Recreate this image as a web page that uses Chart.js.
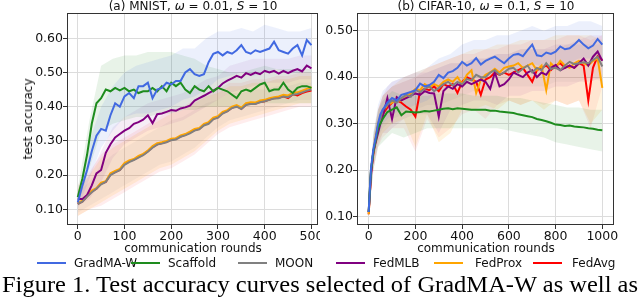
<!DOCTYPE html>
<html lang="en">
<head>
<meta charset="UTF-8">
<title>Test accuracy curves</title>
<script src="https://cdn.jsdelivr.net/npm/chart.js"></script>
<style>
  body { margin: 0; width: 640px; height: 304px; position: relative; overflow: hidden; background: #fff;
         font-family: "DejaVu Sans", sans-serif; color: #111; }
  canvas { position: absolute; top: 0; }
  .t { position: absolute; white-space: nowrap; font-size: 12px; line-height: 12px; transform: translate(-50%, -50%); }
  .ylab { transform: translate(-50%, -50%) rotate(-90deg); }
  .leg-line { position: absolute; height: 2px; top: 262px; }
  .leg-text { position: absolute; top: 257px; font-size: 12px; line-height: 12px; white-space: nowrap; }
  #caption { position: absolute; left: 2px; top: 273px; font-family: "Liberation Serif", "Times New Roman", serif;
             font-size: 23px; line-height: 23px; white-space: nowrap; transform-origin: 0 0; color: #000; }
</style>
</head>
<body>
<canvas id="mnist" width="320" height="260" style="left:0"></canvas>
<canvas id="cifar" width="320" height="260" style="left:320px"></canvas>

<div class="t" style="left:193px; top:5.5px">(a) MNIST, <i>ω</i> = 0.01, <i>S</i> = 10</div>
<div class="t" style="left:486px; top:5.5px">(b) CIFAR-10, <i>ω</i> = 0.1, <i>S</i> = 10</div>
<div class="t ylab" style="left:28px; top:119px">test accuracy</div>
<div class="t" style="left:193px; top:247.5px">communication rounds</div>
<div class="t" style="left:486px; top:247.5px">communication rounds</div>
<div id="legend"></div>
<div id="caption">Figure 1. Test accuracy curves selected of GradMA-W as well as</div>

<script>
  // ---------- (a) MNIST ----------
  const MNIST_ROUNDS = [0,10,20,30,40,50,60,70,80,90,100,110,120,130,140,150,160,170,180,190,200,
    210,220,230,240,250,260,270,280,290,300,310,320,330,340,350,360,370,380,390,400,
    410,420,430,440,450,460,470,480,490,500];
  const mnistGradma = [0.120,0.170,0.215,0.270,0.315,0.335,0.330,0.375,0.410,0.400,
    0.430,0.440,0.425,0.460,0.460,0.470,0.425,0.450,0.455,0.470,
    0.465,0.475,0.475,0.500,0.510,0.495,0.490,0.495,0.530,0.555,
    0.560,0.550,0.560,0.555,0.565,0.580,0.560,0.555,0.565,0.560,
    0.565,0.570,0.590,0.565,0.560,0.555,0.570,0.580,0.550,0.595,0.580];
  const mnistScaffold = [0.135,0.190,0.260,0.350,0.410,0.425,0.450,0.445,0.455,0.448,
    0.455,0.445,0.450,0.440,0.445,0.445,0.455,0.445,0.460,0.445,
    0.470,0.460,0.470,0.450,0.440,0.460,0.450,0.445,0.460,0.445,
    0.455,0.450,0.445,0.435,0.425,0.445,0.450,0.445,0.455,0.465,
    0.470,0.445,0.450,0.450,0.470,0.450,0.440,0.455,0.460,0.460,0.455];
  const mnistMoon = [0.115,0.122,0.137,0.150,0.160,0.173,0.180,0.200,0.208,0.214,
    0.230,0.238,0.244,0.251,0.258,0.268,0.280,0.289,0.292,0.296,
    0.302,0.304,0.312,0.316,0.322,0.330,0.334,0.345,0.350,0.363,
    0.368,0.380,0.386,0.396,0.400,0.393,0.405,0.408,0.408,0.413,
    0.416,0.420,0.424,0.425,0.430,0.428,0.435,0.437,0.442,0.447,0.450];
  const mnistFedmlb = [0.130,0.130,0.142,0.170,0.205,0.215,0.265,0.290,0.310,0.320,
    0.330,0.337,0.350,0.355,0.362,0.375,0.352,0.378,0.380,0.385,
    0.390,0.388,0.395,0.398,0.403,0.418,0.425,0.432,0.440,0.447,
    0.455,0.468,0.476,0.483,0.490,0.485,0.498,0.493,0.500,0.495,
    0.505,0.500,0.505,0.497,0.505,0.498,0.505,0.510,0.503,0.520,0.512];
  const mnistFedprox = [0.118,0.125,0.140,0.155,0.162,0.178,0.182,0.205,0.212,0.218,
    0.235,0.243,0.247,0.256,0.262,0.272,0.285,0.293,0.296,0.300,
    0.306,0.308,0.316,0.320,0.327,0.335,0.338,0.350,0.355,0.368,
    0.372,0.385,0.390,0.400,0.405,0.397,0.410,0.413,0.412,0.418,
    0.420,0.425,0.428,0.430,0.435,0.433,0.440,0.442,0.447,0.452,0.457];
  const mnistFedavg = [0.116,0.123,0.138,0.152,0.160,0.175,0.180,0.202,0.209,0.215,
    0.232,0.240,0.245,0.253,0.260,0.270,0.282,0.290,0.294,0.297,
    0.303,0.306,0.313,0.318,0.324,0.332,0.335,0.347,0.352,0.365,
    0.369,0.382,0.387,0.397,0.402,0.394,0.406,0.410,0.409,0.414,
    0.416,0.421,0.425,0.426,0.430,0.425,0.436,0.433,0.440,0.444,0.447];

  // shaded spread (min / max over runs)
  const MNIST_BAND_ROUNDS = [0,25,50,75,100,125,150,175,200,225,250,275,300,325,350,375,400,425,450,475,500];
  const mnistGradmaLo   = [0.10,0.19,0.28,0.33,0.37,0.38,0.38,0.39,0.40,0.42,0.43,0.45,0.48,0.49,0.50,0.49,0.50,0.51,0.50,0.50,0.52];
  const mnistGradmaHi   = [0.14,0.30,0.40,0.46,0.50,0.52,0.53,0.54,0.55,0.57,0.57,0.60,0.62,0.62,0.63,0.62,0.64,0.63,0.62,0.62,0.63];
  const mnistScaffoldLo = [0.11,0.22,0.33,0.35,0.36,0.37,0.37,0.38,0.38,0.39,0.39,0.40,0.40,0.40,0.40,0.41,0.41,0.41,0.41,0.41,0.41];
  const mnistScaffoldHi = [0.16,0.36,0.52,0.54,0.55,0.55,0.56,0.56,0.56,0.55,0.54,0.52,0.51,0.50,0.50,0.51,0.52,0.51,0.51,0.51,0.51];
  const mnistMoonLo     = [0.09,0.11,0.13,0.15,0.17,0.19,0.21,0.23,0.24,0.26,0.28,0.31,0.34,0.36,0.37,0.38,0.39,0.40,0.41,0.42,0.42];
  const mnistMoonHi     = [0.15,0.18,0.23,0.26,0.28,0.30,0.32,0.34,0.36,0.37,0.39,0.41,0.42,0.44,0.44,0.45,0.45,0.46,0.46,0.47,0.47];
  const mnistFedmlbLo   = [0.11,0.13,0.18,0.25,0.29,0.31,0.33,0.34,0.35,0.36,0.38,0.40,0.42,0.44,0.45,0.46,0.47,0.47,0.47,0.48,0.48];
  const mnistFedmlbHi   = [0.15,0.20,0.27,0.34,0.37,0.39,0.41,0.42,0.43,0.44,0.46,0.48,0.49,0.52,0.53,0.54,0.54,0.54,0.54,0.55,0.55];
  const mnistFedproxLo  = [0.08,0.10,0.12,0.14,0.16,0.18,0.20,0.22,0.23,0.25,0.27,0.30,0.33,0.35,0.36,0.37,0.38,0.39,0.40,0.41,0.41];
  const mnistFedproxHi  = [0.16,0.20,0.25,0.28,0.30,0.32,0.34,0.36,0.38,0.39,0.41,0.43,0.44,0.46,0.46,0.47,0.47,0.48,0.48,0.49,0.49];
  const mnistFedavgLo   = [0.08,0.10,0.11,0.13,0.15,0.17,0.19,0.21,0.22,0.24,0.26,0.29,0.32,0.34,0.35,0.36,0.37,0.38,0.39,0.40,0.40];
  const mnistFedavgHi   = [0.17,0.21,0.26,0.29,0.31,0.33,0.35,0.37,0.39,0.40,0.42,0.44,0.45,0.47,0.47,0.48,0.48,0.49,0.49,0.50,0.50];

  const MNIST_X_TICKS = [0,100,200,300,400,500];
  const MNIST_Y_TICKS = [0.1,0.2,0.3,0.4,0.5,0.6];

  // ---------- (b) CIFAR-10 ----------
  const CIFAR_ROUNDS = [0,5,10,20,30,40,50,60,80,100,120,140,160,180,200,220,240,260,280,300,
    320,340,360,380,400,420,440,460,480,500,520,540,560,580,600,620,640,660,680,700,
    720,740,760,780,800,820,840,860,880,900,920,940,960,980,1000];
  const cifarGradma = [0.110,0.160,0.205,0.245,0.270,0.300,0.320,0.330,0.345,0.355,
    0.350,0.362,0.365,0.368,0.372,0.386,0.380,0.383,0.390,0.405,
    0.398,0.410,0.413,0.420,0.433,0.425,0.430,0.441,0.427,0.435,
    0.440,0.444,0.437,0.430,0.440,0.448,0.450,0.445,0.458,0.470,
    0.447,0.445,0.453,0.450,0.455,0.466,0.460,0.462,0.470,0.480,
    0.470,0.462,0.468,0.482,0.470];
  const cifarScaffold = [0.110,0.160,0.200,0.240,0.265,0.290,0.300,0.310,0.325,0.330,
    0.335,0.318,0.326,0.325,0.324,0.325,0.327,0.326,0.328,0.330,
    0.332,0.333,0.331,0.333,0.332,0.331,0.330,0.330,0.330,0.330,
    0.328,0.328,0.326,0.325,0.324,0.323,0.320,0.318,0.316,0.314,
    0.310,0.308,0.305,0.302,0.298,0.297,0.295,0.296,0.294,0.293,
    0.292,0.290,0.289,0.287,0.286];
  const cifarMoon = [0.110,0.155,0.200,0.240,0.265,0.295,0.310,0.330,0.340,0.350,
    0.345,0.355,0.362,0.358,0.372,0.368,0.375,0.380,0.370,0.377,
    0.385,0.390,0.382,0.390,0.385,0.396,0.393,0.405,0.400,0.400,
    0.410,0.415,0.405,0.410,0.418,0.420,0.410,0.418,0.425,0.410,
    0.420,0.415,0.430,0.418,0.420,0.415,0.425,0.433,0.428,0.430,
    0.432,0.430,0.437,0.444,0.423];
  const cifarFedmlb = [0.110,0.150,0.190,0.240,0.260,0.280,0.300,0.315,0.355,0.310,
    0.357,0.350,0.355,0.360,0.365,0.362,0.370,0.366,0.365,0.315,
    0.370,0.380,0.375,0.385,0.380,0.390,0.385,0.390,0.395,0.390,
    0.375,0.410,0.380,0.385,0.395,0.410,0.405,0.400,0.410,0.415,
    0.400,0.410,0.405,0.420,0.426,0.415,0.420,0.425,0.420,0.430,
    0.440,0.425,0.444,0.455,0.435];
  const cifarFedprox = [0.105,0.150,0.200,0.240,0.270,0.300,0.315,0.325,0.340,0.345,
    0.350,0.350,0.360,0.365,0.375,0.372,0.385,0.378,0.385,0.380,
    0.390,0.395,0.390,0.400,0.385,0.405,0.415,0.366,0.394,0.405,
    0.410,0.418,0.410,0.420,0.423,0.425,0.430,0.420,0.425,0.430,
    0.415,0.425,0.372,0.430,0.420,0.435,0.425,0.420,0.430,0.435,
    0.430,0.425,0.435,0.440,0.377];
  const cifarFedavg = [0.105,0.150,0.195,0.235,0.265,0.295,0.310,0.320,0.335,0.345,
    0.350,0.345,0.337,0.330,0.315,0.370,0.375,0.372,0.380,0.370,
    0.385,0.380,0.385,0.366,0.390,0.400,0.395,0.390,0.362,0.395,
    0.400,0.410,0.405,0.410,0.405,0.410,0.415,0.420,0.405,0.390,
    0.415,0.420,0.425,0.415,0.425,0.430,0.420,0.425,0.420,0.430,
    0.425,0.350,0.420,0.445,0.437];

  const CIFAR_BAND_ROUNDS = [0,20,40,60,80,100,150,200,250,300,350,400,450,500,550,600,650,700,750,800,850,900,950,1000];
  const cifarGradmaLo   = [0.10,0.22,0.27,0.30,0.31,0.32,0.33,0.34,0.35,0.37,0.38,0.39,0.40,0.40,0.41,0.41,0.42,0.43,0.42,0.43,0.43,0.44,0.44,0.44];
  const cifarGradmaHi   = [0.13,0.28,0.34,0.37,0.38,0.39,0.40,0.41,0.42,0.44,0.45,0.47,0.48,0.48,0.49,0.49,0.50,0.51,0.50,0.51,0.51,0.52,0.52,0.51];
  const cifarScaffoldLo = [0.10,0.20,0.25,0.26,0.27,0.28,0.27,0.28,0.29,0.29,0.29,0.29,0.29,0.29,0.29,0.285,0.28,0.275,0.27,0.26,0.255,0.25,0.245,0.24];
  const cifarScaffoldHi = [0.12,0.28,0.33,0.35,0.36,0.37,0.36,0.36,0.36,0.365,0.365,0.365,0.36,0.36,0.36,0.355,0.355,0.35,0.345,0.34,0.335,0.335,0.33,0.33];
  const cifarMoonLo     = [0.10,0.21,0.27,0.29,0.30,0.31,0.32,0.33,0.34,0.34,0.35,0.36,0.37,0.37,0.38,0.38,0.38,0.38,0.38,0.39,0.39,0.39,0.40,0.39];
  const cifarMoonHi     = [0.12,0.26,0.32,0.36,0.37,0.38,0.39,0.40,0.41,0.42,0.43,0.43,0.44,0.44,0.45,0.45,0.46,0.46,0.46,0.46,0.47,0.47,0.47,0.47];
  const cifarFedmlbLo   = [0.10,0.20,0.25,0.28,0.28,0.29,0.31,0.32,0.32,0.28,0.33,0.34,0.35,0.35,0.34,0.36,0.36,0.37,0.37,0.38,0.38,0.39,0.39,0.40];
  const cifarFedmlbHi   = [0.12,0.27,0.33,0.36,0.38,0.39,0.40,0.41,0.41,0.42,0.43,0.43,0.44,0.44,0.45,0.45,0.46,0.46,0.46,0.47,0.47,0.48,0.49,0.49];
  const cifarFedproxLo  = [0.10,0.21,0.26,0.28,0.29,0.30,0.31,0.25,0.32,0.26,0.28,0.33,0.33,0.34,0.33,0.35,0.34,0.35,0.33,0.35,0.34,0.35,0.30,0.33];
  const cifarFedproxHi  = [0.12,0.27,0.33,0.36,0.37,0.38,0.40,0.41,0.42,0.43,0.44,0.45,0.46,0.46,0.47,0.47,0.48,0.48,0.48,0.49,0.49,0.49,0.49,0.48];
  const cifarFedavgLo   = [0.10,0.20,0.25,0.27,0.28,0.29,0.29,0.24,0.31,0.27,0.29,0.32,0.33,0.31,0.34,0.35,0.34,0.35,0.34,0.35,0.34,0.35,0.29,0.38];
  const cifarFedavgHi   = [0.12,0.27,0.33,0.36,0.37,0.38,0.39,0.40,0.42,0.43,0.44,0.45,0.45,0.46,0.46,0.47,0.47,0.48,0.48,0.48,0.49,0.49,0.48,0.49];

  const CIFAR_X_TICKS = [0,200,400,600,800,1000];
  const CIFAR_Y_TICKS = [0.1,0.2,0.3,0.4,0.5];

  const METHODS = ['GradMA-W', 'Scaffold', 'MOON', 'FedMLB', 'FedProx', 'FedAvg'];
  const COLORS  = ['#4169e1', '#1e8c1e', '#808080', '#800080', '#ffa500', '#ff0000'];
  const BANDS   = ['rgba(65,105,225,0.10)', 'rgba(30,140,30,0.10)', 'rgba(128,128,128,0.08)',
                   'rgba(128,0,128,0.07)', 'rgba(255,165,0,0.12)', 'rgba(255,0,0,0.07)'];

  Chart.defaults.font.family = '"DejaVu Sans", sans-serif';

  function pts(xs, ys) {
    return xs.map((x, i) => ({ x: x, y: ys[i] }));
  }

  // full box around the plot area, like matplotlib spines
  const frame = {
    id: 'frame',
    afterDraw(chart) {
      const a = chart.chartArea, ctx = chart.ctx;
      ctx.save();
      ctx.strokeStyle = '#333';
      ctx.lineWidth = 1;
      ctx.strokeRect(a.left + 0.5, a.top + 0.5, a.right - a.left - 1, a.bottom - a.top - 1);
      ctx.restore();
    }
  };

  function buildChart(id, c) {
    const datasets = [];
    // drawing order: first entry ends on top
    const drawOrder = [0, 1, 2, 3, 4, 5];
    drawOrder.forEach(k => {
      datasets.push({
        label: METHODS[k], data: pts(c.rounds, c.series[k]),
        borderColor: COLORS[k], borderWidth: 2, pointRadius: 0, fill: false, tension: 0
      });
    });
    drawOrder.forEach(k => {
      datasets.push({
        data: pts(c.bandRounds, c.hi[k]), borderColor: 'rgba(0,0,0,0)', borderWidth: 1,
        pointRadius: 0, backgroundColor: BANDS[k], fill: '+1', tension: 0
      });
      datasets.push({
        data: pts(c.bandRounds, c.lo[k]), borderColor: 'rgba(0,0,0,0)', borderWidth: 1,
        pointRadius: 0, fill: false, tension: 0
      });
    });

    return new Chart(document.getElementById(id), {
      type: 'line',
      data: { datasets: datasets },
      options: {
        responsive: false,
        animation: false,
        devicePixelRatio: 1,
        layout: { padding: c.padding },
        plugins: { legend: { display: false }, tooltip: { enabled: false } },
        scales: {
          x: {
            type: 'linear', min: c.xMin, max: c.xMax,
            afterBuildTicks: s => { s.ticks = c.xTicks.map(v => ({ value: v })); },
            afterFit: s => { s.height = 35; s.paddingLeft = 0; s.paddingRight = 0; },
            grid: { color: '#dcdcdc', lineWidth: 1, tickLength: 4, tickColor: '#333' },
            border: { display: false },
            ticks: { color: '#111', font: { size: 12.5 }, padding: 0, maxRotation: 0, autoSkip: false,
                     callback: v => String(v) }
          },
          y: {
            min: c.yMin, max: c.yMax,
            afterBuildTicks: s => { s.ticks = c.yTicks.map(v => ({ value: v })); },
            afterFit: s => { s.width = c.yWidth; s.paddingTop = 0; s.paddingBottom = 0; },
            grid: { color: '#dcdcdc', lineWidth: 1, tickLength: 4, tickColor: '#333' },
            border: { display: false },
            ticks: { color: '#111', font: { size: 12.5 }, padding: 0, autoSkip: false,
                     callback: v => v.toFixed(2) }
          }
        }
      },
      plugins: [frame]
    });
  }

  buildChart('mnist', {
    rounds: MNIST_ROUNDS,
    series: [mnistGradma, mnistScaffold, mnistMoon, mnistFedmlb, mnistFedprox, mnistFedavg],
    bandRounds: MNIST_BAND_ROUNDS,
    lo: [mnistGradmaLo, mnistScaffoldLo, mnistMoonLo, mnistFedmlbLo, mnistFedproxLo, mnistFedavgLo],
    hi: [mnistGradmaHi, mnistScaffoldHi, mnistMoonHi, mnistFedmlbHi, mnistFedproxHi, mnistFedavgHi],
    xMin: -23, xMax: 514, xTicks: MNIST_X_TICKS,
    yMin: 0.054, yMax: 0.674, yTicks: MNIST_Y_TICKS,
    yWidth: 67, padding: { left: 0, top: 13, right: 2, bottom: 0 }
  });

  buildChart('cifar', {
    rounds: CIFAR_ROUNDS,
    series: [cifarGradma, cifarScaffold, cifarMoon, cifarFedmlb, cifarFedprox, cifarFedavg],
    bandRounds: CIFAR_BAND_ROUNDS,
    lo: [cifarGradmaLo, cifarScaffoldLo, cifarMoonLo, cifarFedmlbLo, cifarFedproxLo, cifarFedavgLo],
    hi: [cifarGradmaHi, cifarScaffoldHi, cifarMoonHi, cifarFedmlbHi, cifarFedproxHi, cifarFedavgHi],
    xMin: -50, xMax: 1050, xTicks: CIFAR_X_TICKS,
    yMin: 0.082, yMax: 0.538, yTicks: CIFAR_Y_TICKS,
    yWidth: 37, padding: { left: 0, top: 13, right: 26, bottom: 0 }
  });

  // shared legend below both panels
  const LEG_LINE_X = [37, 131, 238, 336, 434, 533];
  const LEG_TEXT_X = [74, 168, 275, 373, 475, 572];
  const legend = document.getElementById('legend');
  METHODS.forEach((name, k) => {
    const line = document.createElement('div');
    line.className = 'leg-line';
    line.style.left = LEG_LINE_X[k] + 'px';
    line.style.width = '29px';
    line.style.background = COLORS[k];
    legend.appendChild(line);
    const txt = document.createElement('div');
    txt.className = 'leg-text';
    txt.style.left = LEG_TEXT_X[k] + 'px';
    txt.textContent = name;
    legend.appendChild(txt);
  });

  // stretch caption to the page width as in the source
  const cap = document.getElementById('caption');
  const w = cap.getBoundingClientRect().width;
  cap.style.transform = 'scaleX(' + (636 / w) + ')';
</script>
</body>
</html>
